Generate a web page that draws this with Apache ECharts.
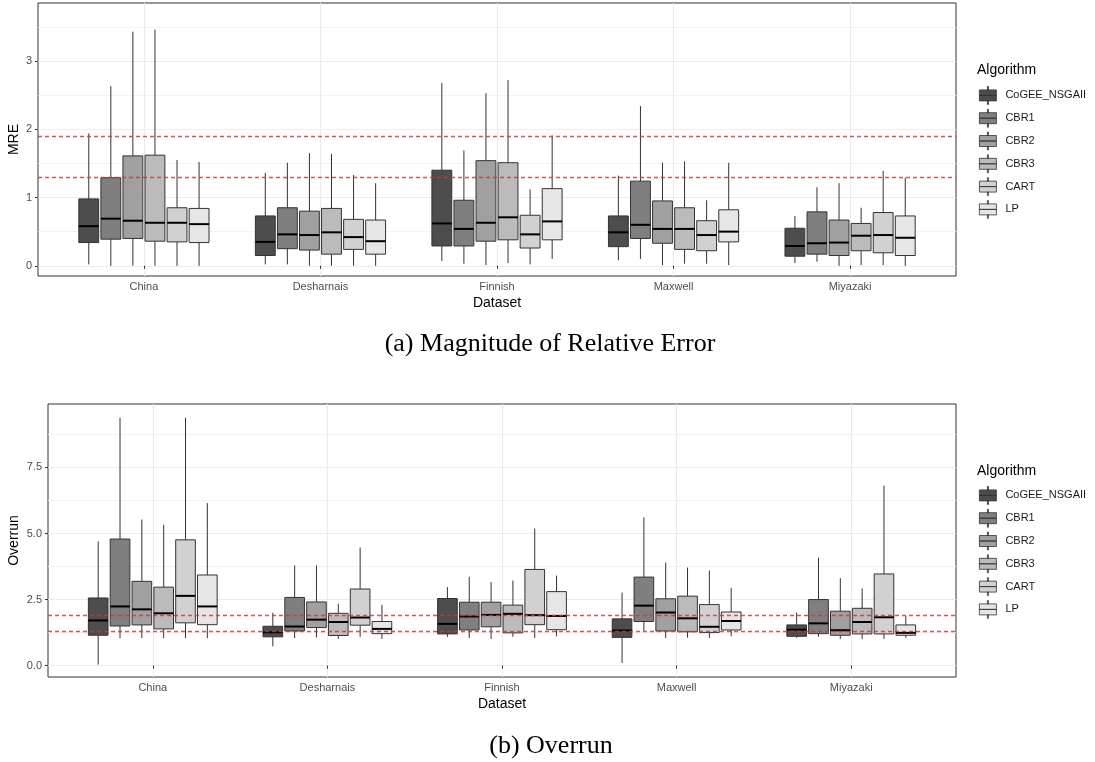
<!DOCTYPE html>
<html>
<head>
<meta charset="utf-8">
<title>MRE / Overrun boxplots</title>
<script src="https://cdn.jsdelivr.net/npm/echarts@6.0.0/dist/echarts.min.js"></script>
<style>
html,body{margin:0;padding:0;background:#fff;}
#main{width:1095px;height:762px;}
</style>
</head>
<body>
<div id="main"></div>
<script>
var datasets = ['China', 'Desharnais', 'Finnish', 'Maxwell', 'Miyazaki'];//x categories
var algorithms = ['CoGEE_NSGAII', 'CBR1', 'CBR2', 'CBR3', 'CART', 'LP'];//legend order
var fills = ['#4D4D4D', '#7F7F7F', '#A0A0A0', '#BBBBBB', '#D1D1D1', '#E6E6E6'];//grey fills

// MRE: [low whisker, Q1, median, Q3, high whisker] per dataset
var mreCoGEE = [[0.02,0.34,0.58,0.98,1.94],[0.02,0.15,0.35,0.73,1.36],[0.07,0.29,0.62,1.40,2.68],[0.08,0.28,0.49,0.73,1.32],[0.04,0.14,0.29,0.55,0.73]];
var mreCBR1  = [[0.00,0.39,0.69,1.29,2.63],[0.02,0.25,0.46,0.85,1.51],[0.03,0.29,0.54,0.96,1.69],[0.10,0.40,0.60,1.24,2.34],[0.06,0.17,0.33,0.79,1.15]];
var mreCBR2  = [[0.00,0.40,0.66,1.61,3.43],[0.00,0.23,0.45,0.80,1.65],[0.01,0.36,0.63,1.54,2.53],[0.01,0.33,0.54,0.95,1.51],[0.00,0.15,0.34,0.67,1.21]];
var mreCBR3  = [[0.00,0.36,0.63,1.62,3.46],[0.00,0.17,0.49,0.84,1.64],[0.04,0.38,0.71,1.51,2.72],[0.03,0.24,0.54,0.85,1.53],[0.01,0.22,0.44,0.62,0.85]];
var mreCART  = [[0.00,0.35,0.63,0.85,1.55],[0.00,0.24,0.42,0.68,1.33],[0.02,0.26,0.46,0.74,1.12],[0.03,0.22,0.45,0.66,0.96],[0.01,0.19,0.45,0.78,1.39]];
var mreLP    = [[0.00,0.34,0.61,0.84,1.52],[0.00,0.17,0.36,0.67,1.21],[0.10,0.38,0.65,1.13,1.91],[0.01,0.35,0.50,0.82,1.51],[0.00,0.15,0.41,0.73,1.29]];

// Overrun
var ovrCoGEE = [[0.04,1.15,1.71,2.56,4.70],[0.73,1.09,1.26,1.49,2.00],[1.09,1.20,1.58,2.54,2.97],[0.10,1.07,1.33,1.77,2.77],[1.05,1.11,1.36,1.54,2.01]];
var ovrCBR1  = [[1.04,1.50,2.24,4.79,9.38],[1.04,1.31,1.48,2.58,3.79],[1.04,1.35,1.86,2.40,3.36],[1.31,1.67,2.27,3.35,5.61],[1.09,1.21,1.60,2.50,4.08]];
var ovrCBR2  = [[1.04,1.54,2.13,3.19,5.53],[1.06,1.44,1.74,2.41,3.79],[1.01,1.47,1.92,2.40,3.16],[1.04,1.31,2.01,2.53,3.90],[1.01,1.15,1.34,2.06,3.31]];
var ovrCBR3  = [[1.04,1.39,1.98,2.97,5.33],[1.01,1.14,1.65,1.98,2.34],[1.09,1.24,1.96,2.29,3.22],[1.06,1.28,1.79,2.63,3.71],[1.01,1.20,1.65,2.17,2.92]];
var ovrCART  = [[1.04,1.62,2.64,4.76,9.38],[1.09,1.53,1.82,2.90,4.47],[1.04,1.55,1.91,3.64,5.19],[1.05,1.25,1.47,2.31,3.60],[1.01,1.20,1.83,3.47,6.81]];
var ovrLP    = [[1.04,1.55,2.24,3.43,6.15],[1.01,1.21,1.39,1.67,2.30],[1.11,1.36,1.88,2.80,3.41],[1.11,1.35,1.69,2.03,2.94],[1.05,1.15,1.24,1.54,1.89]];

var refLines = [1.9, 1.3];//red dashed reference lines
var mreTicks = [0, 1, 2, 3];
var mreGrid = [0, 0.5, 1, 1.5, 2, 2.5, 3, 3.5];
var ovrTicks = [0, 2.5, 5, 7.5];
var ovrGrid = [0, 1.25, 2.5, 3.75, 5, 6.25, 7.5, 8.75];
var xTicks = [0, 1, 2, 3, 4];

var SANS = 'Liberation Sans, Arial, sans-serif';
var SERIF = 'Liberation Serif, Times New Roman, serif';
var RED = '#C8393B';
var X_MIN = -0.6, X_MAX = 4.6;//discrete axis expansion
var DODGE = 0.125;//spacing of dodged boxes
var BOX_W = 0.1125;//box width in x units
var keyIcon = 'path://M0,3.5H17V9H0Z M0,9H17V14.5H0Z M8,0H9V3.5H8Z M8,14.5H9V18H8Z';

function boxRender(offset){//draw one boxplot
	return function(params, api){
		var x = api.value(0) + offset;
		var low = api.coord([x, api.value(1)]);
		var q1 = api.coord([x, api.value(2)]);
		var med = api.coord([x, api.value(3)]);
		var q3 = api.coord([x, api.value(4)]);
		var high = api.coord([x, api.value(5)]);
		var half = api.size([BOX_W, 0])[0] / 2;
		var cx = low[0];
		var line = {stroke: '#333333', lineWidth: 1};
		return {
			type: 'group',
			children: [
				{type: 'line', shape: {x1: cx, y1: high[1], x2: cx, y2: q3[1]}, style: line},
				{type: 'line', shape: {x1: cx, y1: q1[1], x2: cx, y2: low[1]}, style: line},
				{type: 'rect', shape: {x: cx - half, y: q3[1], width: half * 2, height: q1[1] - q3[1]},
					style: {fill: api.visual('color'), stroke: '#333333', lineWidth: 1}},
				{type: 'line', shape: {x1: cx - half, y1: med[1], x2: cx + half, y2: med[1]},
					style: {stroke: '#000', lineWidth: 2}}
			]
		};
	};
}

function refRender(params, api){//horizontal dashed line across the panel
	var a = api.coord([X_MIN, api.value(0)]);
	var b = api.coord([X_MAX, api.value(0)]);
	var y = Math.round(a[1]) + 0.5;//keep it crisp
	return {
		type: 'line',
		shape: {x1: a[0], y1: y, x2: b[0], y2: y},
		style: {stroke: RED, lineWidth: 1.5, lineDash: [4, 3], opacity: 0.85}
	};
}

function makeSeries(g, lists){//6 box series + reference lines for one panel
	var out = [];
	for (var j = 0; j < algorithms.length; j++){
		var rows = [];
		for (var i = 0; i < datasets.length; i++){
			rows.push([i].concat(lists[j][i]));
		}
		out.push({
			name: algorithms[j],
			type: 'custom',
			xAxisIndex: g,
			yAxisIndex: g * 2,
			itemStyle: {color: fills[j]},
			encode: {x: 0, y: [1, 2, 3, 4, 5]},
			renderItem: boxRender((j - 2.5) * DODGE),
			data: rows
		});
	}
	out.push({
		name: 'ref',
		type: 'custom',
		xAxisIndex: g,
		yAxisIndex: g * 2,
		z: 10,
		silent: true,
		encode: {y: 0},
		renderItem: refRender,
		data: refLines.map(function(v){ return [v]; })
	});
	return out;
}

function xAxisFor(g){
	return {
		type: 'value', gridIndex: g, min: X_MIN, max: X_MAX,
		name: 'Dataset', nameLocation: 'middle', nameGap: 20,
		nameTextStyle: {color: '#000', fontSize: 14, fontFamily: SANS},
		axisLine: {show: false},
		axisTick: {show: true, length: 3, lineStyle: {color: '#333'}, customValues: xTicks},
		axisLabel: {customValues: xTicks, color: '#4D4D4D', fontSize: 11, fontFamily: SANS, margin: 5,
			formatter: function(v){ return datasets[Math.round(v)]; }},
		splitLine: {show: true, lineStyle: {color: '#EBEBEB', width: 1}}
	};
}

function yAxesFor(g, min, max, grid, ticks, name, gap, digits){
	return [
		{//minor grid, used by the series
			type: 'value', gridIndex: g, min: min, max: max, position: 'left',
			axisLine: {show: false}, axisLabel: {show: false},
			axisTick: {show: false, customValues: grid},
			splitLine: {show: true, lineStyle: {color: '#F2F2F2', width: 1}}
		},
		{//major ticks and labels
			type: 'value', gridIndex: g, min: min, max: max, position: 'left',
			name: name, nameLocation: 'middle', nameGap: gap, nameMoveOverlap: false,
			nameTextStyle: {color: '#000', fontSize: 14, fontFamily: SANS},
			axisLine: {show: false},
			axisTick: {show: true, length: 3, lineStyle: {color: '#333'}, customValues: ticks},
			axisLabel: {customValues: ticks, color: '#4D4D4D', fontSize: 11, fontFamily: SANS, margin: 6,
				formatter: function(v){ return v.toFixed(digits); }},
			splitLine: {show: true, lineStyle: {color: '#EBEBEB', width: 1}}
		}
	];
}

function legendFor(top){
	return {
		orient: 'vertical', left: 979, top: top, padding: 0,
		itemWidth: 17, itemHeight: 18, itemGap: 4,
		icon: keyIcon, selectedMode: false,
		data: algorithms,
		itemStyle: {borderColor: '#333', borderWidth: 0.8},
		textStyle: {fontSize: 11, color: '#1A1A1A', fontFamily: SANS, padding: [0, 0, 0, 4]}
	};
}

function label(text, x, y, size, family){
	return {type: 'text', x: x, y: y, silent: true,
		style: {text: text, fill: '#000', font: size + 'px ' + family, textAlign: 'center', textVerticalAlign: 'middle'}};
}

var myChart = echarts.init(document.getElementById('main'), null, {renderer: 'canvas'});
var option = {
	backgroundColor: '#fff',
	animation: false,
	grid: [
		{left: 38, top: 3, width: 918, height: 273, show: true, borderColor: '#333', borderWidth: 1,
			backgroundColor: 'transparent', outerBoundsMode: 'none', containLabel: false},
		{left: 48, top: 404, width: 908, height: 273, show: true, borderColor: '#333', borderWidth: 1,
			backgroundColor: 'transparent', outerBoundsMode: 'none', containLabel: false}
	],
	xAxis: [xAxisFor(0), xAxisFor(1)],
	yAxis: yAxesFor(0, -0.15, 3.85, mreGrid, mreTicks, 'MRE', 17, 0)
		.concat(yAxesFor(1, -0.43, 9.9, ovrGrid, ovrTicks, 'Overrun', 27, 1)),
	legend: [legendFor(86), legendFor(486)],
	graphic: [
		{type: 'text', left: 977, top: 63, silent: true, style: {text: 'Algorithm', fill: '#000', font: '14px ' + SANS}},
		{type: 'text', left: 977, top: 464, silent: true, style: {text: 'Algorithm', fill: '#000', font: '14px ' + SANS}},
		label('(a) Magnitude of Relative Error', 550, 344, 26, SERIF),
		label('(b) Overrun', 551, 746, 26, SERIF)
	],
	series: makeSeries(0, [mreCoGEE, mreCBR1, mreCBR2, mreCBR3, mreCART, mreLP])
		.concat(makeSeries(1, [ovrCoGEE, ovrCBR1, ovrCBR2, ovrCBR3, ovrCART, ovrLP]))
};
myChart.setOption(option);
</script>
</body>
</html>
